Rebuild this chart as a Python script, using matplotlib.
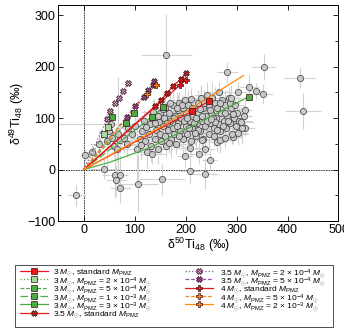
import numpy as np
import matplotlib
matplotlib.use("Agg")
import matplotlib.pyplot as plt
from matplotlib.lines import Line2D
from matplotlib.patches import Rectangle

plt.rcParams['font.family'] = ['Liberation Sans', 'DejaVu Sans']
plt.rcParams['mathtext.fontset'] = 'custom'
plt.rcParams['mathtext.rm'] = 'Liberation Sans'
plt.rcParams['mathtext.it'] = 'Liberation Sans:italic'
plt.rcParams['mathtext.bf'] = 'Liberation Sans:bold'

# presolar grain data: d50Ti48, d49Ti48 and their errors (permil)
grain_x = [-14, 2, 16, 40, 62, 63, 71, 72, 106, 154, 208, 238, 162, 282, 302,
           325, 339, 352, 353, 424, 430, 316, 316, 293, 261, 247, 238, 226, 208, 198,
           54, 30, 45, 55, 68, 72, 60, 80, 88, 85, 95, 100, 66, 50,
           105, 110, 115, 118, 120, 125, 128, 130, 133, 135, 138, 140, 142, 145, 148,
           150, 150, 152, 155, 158, 160, 160, 162, 165, 168, 170, 172, 175, 175, 178,
           180, 182, 185, 185, 188, 190, 192, 195, 195, 198, 200, 200, 203, 205, 208,
           210, 210, 213, 215, 218, 220, 222, 225, 225, 228, 230, 232, 235, 235, 238,
           240, 242, 245, 245, 248, 250, 252, 255, 255, 258, 260, 262, 265, 265, 268,
           270, 272, 275, 278, 280, 282, 285, 288, 290, 292, 295, 298, 300, 305, 310, 315,
           140, 146, 156, 164, 170, 178, 183, 187, 193, 197, 202, 206, 212, 216, 220,
           224, 228, 233, 237, 243, 247, 253, 257, 262, 267, 273, 277, 283, 287, 293,
           297, 303, 112, 122, 137, 168, 183, 218, 232, 250, 268, 278, 290, 308]
grain_y = [-50, 29, 34, 2, -11, -21, -11, -35, -27, -19, -3, -8, 222, 189, 150,
           161, 153, 147, 200, 179, 114, 116, 80, 64, 54, 19, 41, 31, 43, 26,
           88, 50, 55, 62, 70, 57, 45, 62, 80, 50, 70, 85, 40, 75,
           40, 60, 75, 95, 55, 35, 70, 88, 45, 30, 100, 60, 78, 40, 92,
           110, 70, 55, 85, 100, 120, 65, 45, 78, 110, 95, 60, 125, 80, 70,
           105, 50, 115, 90, 130, 75, 100, 60, 120, 135, 85, 110, 70, 125, 95,
           55, 138, 80, 105, 120, 65, 90, 130, 110, 75, 140, 95, 60, 120, 85,
           105, 145, 70, 125, 90, 110, 140, 80, 65, 130, 100, 120, 88, 150, 75,
           110, 135, 95, 125, 80, 105, 140, 90, 120, 70, 100, 85, 110, 95, 80, 105,
           90, 105, 118, 90, 130, 100, 85, 65, 125, 95, 100, 80, 120, 90, 100,
           78, 118, 105, 130, 95, 115, 100, 92, 78, 130, 85, 110, 95, 130, 108,
           125, 72, 48, 82, 112, 52, 120, 72, 58, 98, 58, 62, 140, 92]
grain_xerr = [18, 10, 12, 30, 25, 20, 15, 20, 40, 45, 20, 25, 50, 20, 25,
              20, 15, 20, 25, 30, 35, 15, 20, 20, 20, 15, 20, 20, 25, 15,
              105, 20, 15, 25, 30, 20, 15, 25, 20, 30, 20, 25, 15, 20,
              25, 20, 30, 15, 40, 25, 20, 30, 15, 25, 35, 20, 15, 30, 20,
              25, 40, 20, 15, 30, 25, 20, 35, 20, 15, 25, 30, 20, 15, 25,
              20, 30, 25, 15, 20, 35, 25, 20, 15, 30, 20, 25, 20, 15, 30,
              25, 20, 40, 15, 25, 20, 30, 15, 25, 20, 30, 20, 25, 15, 35,
              20, 25, 15, 30, 20, 25, 15, 20, 30, 25, 15, 20, 25, 20, 30,
              15, 25, 20, 30, 15, 20, 25, 15, 20, 30, 25, 15, 20, 25, 20, 15,
              20, 15, 25, 20, 30, 15, 20, 25, 20, 15, 30, 20, 25, 15, 20,
              25, 15, 20, 30, 20, 15, 25, 20, 15, 30, 20, 25, 15, 20, 25,
              15, 20, 30, 20, 25, 15, 30, 20, 25, 15, 30, 20, 15, 25]
grain_yerr = [20, 12, 15, 20, 45, 30, 40, 30, 55, 30, 25, 30, 80, 20, 20,
              25, 15, 20, 25, 20, 35, 20, 15, 15, 20, 20, 15, 20, 30, 20,
              30, 25, 60, 20, 110, 25, 20, 30, 20, 25, 20, 30, 25, 20,
              60, 25, 30, 20, 25, 40, 20, 25, 30, 20, 35, 25, 20, 30, 25,
              30, 20, 25, 35, 20, 30, 25, 20, 30, 25, 20, 35, 25, 20, 30,
              25, 20, 30, 25, 20, 30, 25, 35, 20, 25, 30, 20, 25, 30, 20,
              25, 20, 30, 25, 20, 35, 20, 25, 30, 20, 25, 30, 20, 25, 30,
              20, 25, 30, 20, 25, 20, 30, 25, 20, 30, 25, 20, 30, 20, 25,
              30, 20, 25, 30, 20, 25, 20, 30, 25, 20, 30, 25, 20, 25, 30, 20,
              20, 25, 30, 20, 25, 30, 20, 25, 20, 30, 25, 20, 25, 30, 20,
              25, 20, 30, 25, 20, 30, 25, 20, 30, 25, 20, 25, 30, 20, 25,
              20, 25, 30, 20, 25, 20, 30, 25, 20, 30, 25, 20, 25, 30]

# model tracks: line points and marker points
m3_std_x, m3_std_y = [0, 212, 245], [0, 113, 133]
m3_std_mx, m3_std_my = [212, 245], [113, 133]
m3_2e4_x, m3_2e4_y = [0, 40, 47, 56], [0, 70, 83, 102]
m3_2e4_mx, m3_2e4_my = [40, 47], [70, 83]
m3_5e4_x, m3_5e4_y = [0, 84, 98], [0, 91, 111]
m3_5e4_mx, m3_5e4_my = [56, 84, 98], [102, 91, 111]
m3_1e3_x, m3_1e3_y = [0, 134, 156], [0, 102, 121]
m3_1e3_mx, m3_1e3_my = [134, 156], [102, 121]
m3_3e3_x, m3_3e3_y = [0, 50, 131, 220, 324], [0, 14, 43, 88, 142]
m3_3e3_mx, m3_3e3_my = [324], [142]
m35_std_x = [0, 141, 152, 163, 176, 191, 201]
m35_std_y = [0, 124, 135, 148, 163, 176, 188]
m35_2e4_x = [0, 46, 52, 62, 69, 78, 87]
m35_2e4_y = [0, 98, 113, 129, 139, 152, 168]
m35_5e4_x = [0, 85, 101, 118, 127, 137, 139]
m35_5e4_y = [0, 103, 124, 142, 154, 165, 173]
m4_std_x, m4_std_y = [0, 190, 201], [0, 165, 174]
m4_5e4_x, m4_5e4_y = [0, 124, 142], [0, 147, 165]
m4_2e3_x, m4_2e3_y = [0, 150, 314], [0, 82, 183]

red = '#e8191c'
green = '#4bab47'
lgreen = '#a6d99e'
purple = '#9a4fa8'
lpurple = '#c9a2d6'
orange = '#ff8a0f'

fig = plt.figure(figsize=(3.44, 3.31), dpi=100)
ax = fig.add_axes([0.169, 0.332, 0.815, 0.653])

ax.axhline(0, color='#222222', lw=0.6, ls=(0, (2, 1)), zorder=1)
ax.axvline(0, color='#222222', lw=0.6, ls=(0, (2, 1)), zorder=1)

ax.errorbar(grain_x, grain_y, xerr=grain_xerr, yerr=grain_yerr, fmt='none',
            ecolor='#d2d2d2', elinewidth=0.8, capsize=0, zorder=2)
ax.plot(grain_x, grain_y, 'o', ms=4.5, mfc='#c8c8c8', mec='#3a3a3a', mew=0.5,
        ls='none', zorder=3)

mk = dict(ms=4.2, mec='#3a1010', mew=0.5)
tracks = [
    (m3_std_x, m3_std_y, m3_std_mx, m3_std_my, red, '-', 's', red,
     r'3 $M_{\odot}$, standard $M_{\rm PMZ}$'),
    (m3_2e4_x, m3_2e4_y, m3_2e4_mx, m3_2e4_my, green, ':', 's', lgreen,
     r'3 $M_{\odot}$, $M_{\rm PMZ}$ = 2 $\times$ 10$^{-4}$ $M_{\odot}$'),
    (m3_5e4_x, m3_5e4_y, m3_5e4_mx, m3_5e4_my, green, (0, (3, 1.5)), 's', green,
     r'3 $M_{\odot}$, $M_{\rm PMZ}$ = 5 $\times$ 10$^{-4}$ $M_{\odot}$'),
    (m3_1e3_x, m3_1e3_y, m3_1e3_mx, m3_1e3_my, green, (0, (6, 2)), 's', green,
     r'3 $M_{\odot}$, $M_{\rm PMZ}$ = 1 $\times$ 10$^{-3}$ $M_{\odot}$'),
    (m3_3e3_x, m3_3e3_y, m3_3e3_mx, m3_3e3_my, green, '-', 's', green,
     r'3 $M_{\odot}$, $M_{\rm PMZ}$ = 3 $\times$ 10$^{-3}$ $M_{\odot}$'),
    (m35_std_x, m35_std_y, m35_std_x[1:], m35_std_y[1:], red, '-', 'X', red,
     r'3.5 $M_{\odot}$, standard $M_{\rm PMZ}$'),
    (m35_2e4_x, m35_2e4_y, m35_2e4_x[1:], m35_2e4_y[1:], purple, ':', 'X', lpurple,
     r'3.5 $M_{\odot}$, $M_{\rm PMZ}$ = 2 $\times$ 10$^{-4}$ $M_{\odot}$'),
    (m35_5e4_x, m35_5e4_y, m35_5e4_x[1:], m35_5e4_y[1:], purple, (0, (3, 1.5)), 'X', purple,
     r'3.5 $M_{\odot}$, $M_{\rm PMZ}$ = 5 $\times$ 10$^{-4}$ $M_{\odot}$'),
    (m4_std_x, m4_std_y, m4_std_x[1:], m4_std_y[1:], red, '-', 'P', red,
     r'4 $M_{\odot}$, standard $M_{\rm PMZ}$'),
    (m4_5e4_x, m4_5e4_y, m4_5e4_x[1:], m4_5e4_y[1:], orange, (0, (3, 1.5)), 'P', orange,
     r'4 $M_{\odot}$, $M_{\rm PMZ}$ = 5 $\times$ 10$^{-4}$ $M_{\odot}$'),
    (m4_2e3_x, m4_2e3_y, [], [], orange, '-', 'P', orange,
     r'4 $M_{\odot}$, $M_{\rm PMZ}$ = 2 $\times$ 10$^{-3}$ $M_{\odot}$'),
]

for lx, ly, mx, my, col, ls, marker, fc, label in tracks:
    ax.plot(lx, ly, color=col, ls=ls, lw=0.9, zorder=4)
    ax.plot(mx, my, marker, color=col, mfc=fc, ls='none', zorder=5, **mk)

ax.set_xlim(-50, 500)
ax.set_ylim(-100, 320)
ax.set_xticks([0, 100, 200, 300, 400, 500])
ax.set_yticks([-100, 0, 100, 200, 300])
ax.set_yticks(np.arange(-100, 320, 50), minor=True)
ax.tick_params(which='both', direction='in', top=True, right=True, labelsize=9,
               width=0.6, pad=2)
ax.tick_params(which='major', length=3.5)
ax.tick_params(which='minor', length=2)
ax.set_yticklabels(['\u2212100', '0', '100', '200', '300'])
for s in ax.spines.values():
    s.set_linewidth(0.7)

ax.set_xlabel('\u03b4$^{50}$Ti$_{48}$ (\u2030)', fontsize=9, labelpad=0)
ax.set_ylabel('\u03b4$^{49}$Ti$_{48}$ (\u2030)', fontsize=9, labelpad=1)

# legend drawn by hand (rows are tighter than matplotlib's legend allows)
W, H = 344.0, 331.0
fig.add_artist(Rectangle((15 / W, 1 - 327 / H), 318 / W, 62 / H,
                         transform=fig.transFigure, fc='white', ec='#333333', lw=0.6))
row_y = [271, 279.3, 287.6, 295.9, 304.2, 312.5]
cols = [(20, 48, 53), (185, 213, 220)]
for i, (lx, ly, mx, my, col, ls, marker, fc, label) in enumerate(tracks):
    c = 0 if i < 6 else 1
    r = i if i < 6 else i - 6
    x0, x1, xt = cols[c]
    yf = 1 - row_y[r] / H
    fig.add_artist(Line2D([x0 / W, x1 / W], [yf, yf], transform=fig.transFigure,
                          color=col, ls=ls, lw=0.9))
    fig.add_artist(Line2D([(x0 + x1) / 2 / W], [yf], transform=fig.transFigure,
                          marker=marker, color=col, mfc=fc, ms=3.8,
                          mec='#3a1010', mew=0.5, ls='none'))
    fig.text(xt / W, yf, label, fontsize=6.0, ha='left', va='center_baseline')

fig.savefig('out.png', dpi=100)
